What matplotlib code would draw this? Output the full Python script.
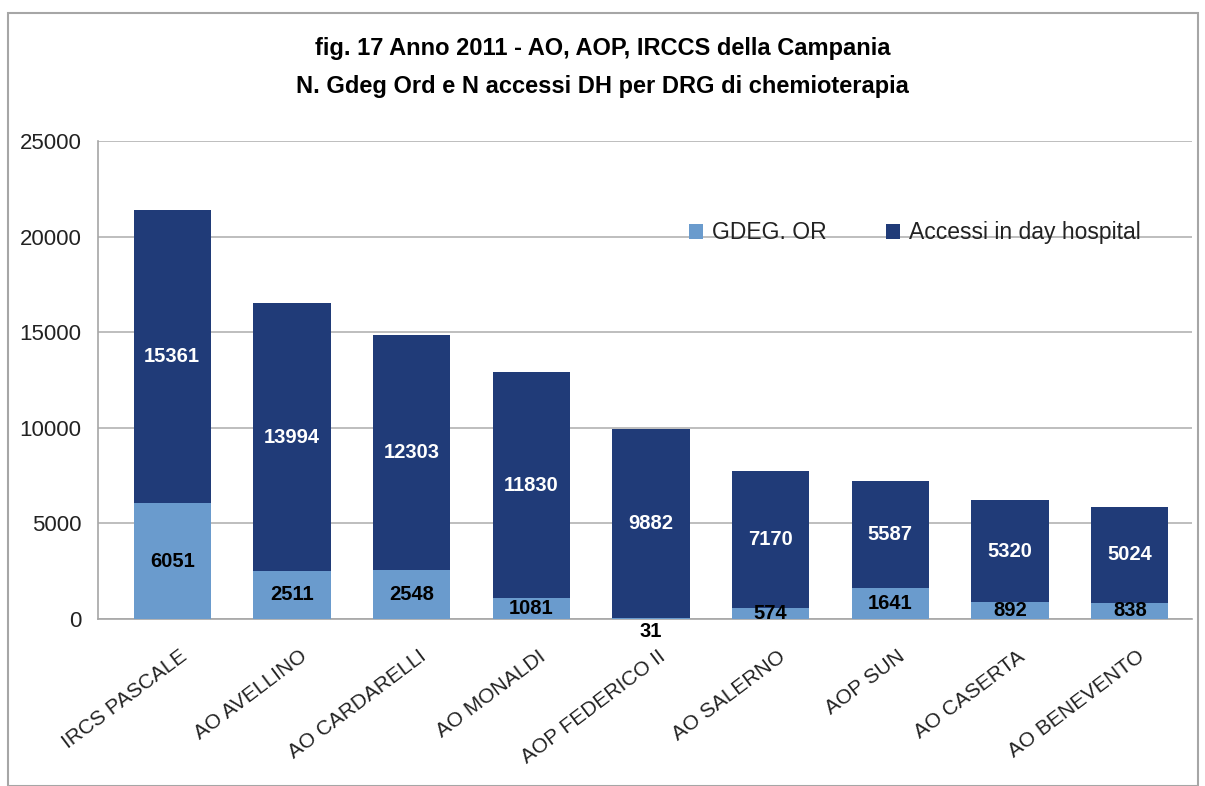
import numpy as np
import matplotlib
matplotlib.use("Agg")
import matplotlib.pyplot as plt
import matplotlib.transforms as mtransforms
from matplotlib.patches import Rectangle

# data
hospitals = ["IRCS PASCALE", "AO AVELLINO", "AO CARDARELLI", "AO MONALDI",
             "AOP FEDERICO II", "AO SALERNO", "AOP SUN", "AO CASERTA", "AO BENEVENTO"]
gdeg_or = [6051, 2511, 2548, 1081, 31, 574, 1641, 892, 838]
accessi_dh = [15361, 13994, 12303, 11830, 9882, 7170, 5587, 5320, 5024]

LIGHT = "#6A9BCD"
DARK = "#203B78"

plt.rcParams["font.family"] = ["Liberation Sans", "DejaVu Sans"]

fig = plt.figure(figsize=(12.05, 7.86), dpi=100)

# outer chart frame
fig.patches.append(Rectangle((8 / 1205, 0), 1190 / 1205, 1 - 13 / 786,
                             transform=fig.transFigure, fill=False,
                             edgecolor="#A6A6A6", linewidth=1.5))

ax = fig.add_axes([98 / 1205, 1 - 619 / 786, (1192 - 98) / 1205, (619 - 141) / 786])

x = np.arange(len(hospitals))
w = 0.645
ax.bar(x, gdeg_or, w, color=LIGHT, label="GDEG. OR", zorder=3)
ax.bar(x, accessi_dh, w, bottom=gdeg_or, color=DARK, label="Accessi in day hospital", zorder=3)

for i in range(len(hospitals)):
    g = gdeg_or[i]
    d = accessi_dh[i]
    if g < 100:
        ax.annotate(str(g), (x[i], 0), xytext=(0, -2), textcoords="offset points",
                    ha="center", va="top", fontsize=14.5, fontweight="bold",
                    color="black", annotation_clip=False)
    else:
        ax.text(x[i], g / 2, str(g), ha="center", va="center", fontsize=14.5,
                fontweight="bold", color="black", zorder=4)
    ax.text(x[i], g + d / 2, str(d), ha="center", va="center", fontsize=14.5,
            fontweight="bold", color="white", zorder=4)

ax.set_xlim(-0.62, 8.52)
ax.set_ylim(0, 25000)
ax.set_yticks(np.arange(0, 25001, 5000))
ax.yaxis.grid(True, color="#B3B3B3", linewidth=1.2, zorder=0)
ax.tick_params(axis="y", length=0, labelsize=16, pad=12, colors="#222222")
ax.tick_params(axis="x", length=0, pad=20)
ax.set_xticks(x)
ax.set_xticklabels(hospitals, rotation=37, ha="right", rotation_mode="anchor",
                   fontsize=15, color="#222222")
shift = mtransforms.ScaledTranslation(7 / 100, 0, fig.dpi_scale_trans)
for lab in ax.get_xticklabels():
    lab.set_transform(lab.get_transform() + shift)

for s in ["top", "right"]:
    ax.spines[s].set_visible(False)
ax.spines["left"].set_color("#A6A6A6")
ax.spines["bottom"].set_color("#A6A6A6")
ax.spines["left"].set_linewidth(1.2)
ax.spines["bottom"].set_linewidth(1.2)

leg = ax.legend(loc="upper right", bbox_to_anchor=(0.972, 0.875), ncol=2, frameon=False,
                fontsize=16.5, handlelength=0.6, handleheight=0.6, handletextpad=0.4,
                columnspacing=2.6)
for t in leg.get_texts():
    t.set_color("#222222")

fig.text(0.5, 1 - 48 / 786, "fig. 17 Anno 2011 - AO, AOP, IRCCS della Campania",
         ha="center", va="center", fontsize=17, fontweight="bold")
fig.text(0.5, 1 - 86 / 786, "N. Gdeg Ord e N accessi DH per DRG di chemioterapia",
         ha="center", va="center", fontsize=17, fontweight="bold")

fig.savefig("out.png", dpi=100)
